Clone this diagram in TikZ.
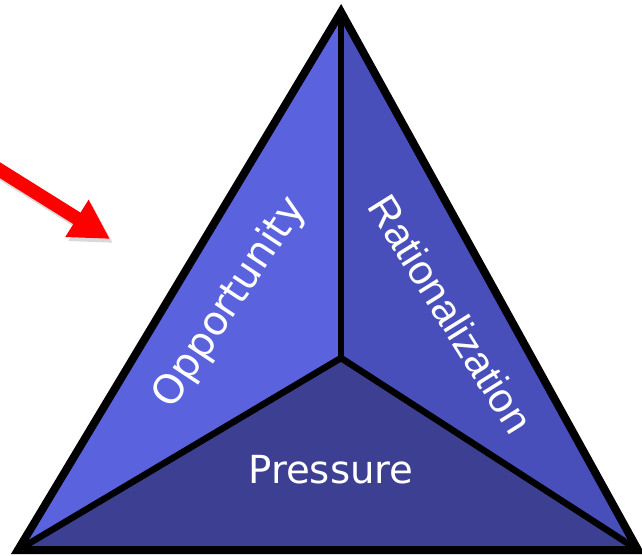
\documentclass[tikz,border=0pt]{standalone}
\usepackage{xcolor}
\usepackage{fontspec}
\newfontfamily\verdfont{DejaVu Sans}
\newfontfamily\arialfont{Liberation Sans}
\usepackage{tikz}
\usetikzlibrary{arrows.meta}

\begin{document}
\begin{tikzpicture}[x=0.02cm, y=-0.02cm]
    \definecolor{myleft}{RGB}{90,98,222}
    \definecolor{myright}{RGB}{72,78,186}
    \definecolor{mybottom}{RGB}{60,63,146}
    \definecolor{myarrow}{RGB}{255,0,0}

    \tikzstyle{face}=[draw=none]  % faces of the triangle
    \tikzstyle{edge}=[draw=black,line width=0.16cm,line join=miter]  % black borders
    \tikzstyle{label}=[text=white,inner sep=0pt]  % white words

    \useasboundingbox (0,0) rectangle (642,555);

    % corners and middle point
    \coordinate (top) at (341,12);
    \coordinate (bl) at (18,550);
    \coordinate (br) at (638,550);
    \coordinate (ctr) at (341,358);

    % three faces
    \fill[face,myleft] (top) -- (ctr) -- (bl) -- cycle;
    \fill[face,myright] (top) -- (br) -- (ctr) -- cycle;
    \fill[face,mybottom] (bl) -- (ctr) -- (br) -- cycle;

    % borders
    \draw[edge,line width=0.13cm] (top) -- (ctr);
    \draw[edge,line width=0.13cm] (bl) -- (ctr) -- (br);
    \draw[edge] (top) -- (br) -- (bl) -- cycle;

    % texts
    \node[label,rotate=56.5,font=\verdfont\fontsize{23}{27}\selectfont](opp) at (230,303){Opportunity};
    \node[label,rotate=-58,font=\arialfont\fontsize{23.5}{27}\selectfont](rat) at (451,314){Rationalization};
    \node[label,font=\verdfont\fontsize{22}{26}\selectfont](pre) at (331,470){Pressure};

    % red arrow
    \coordinate (tail) at (-10,164);
    \coordinate (tip) at (110,239);
    \draw[black!25,opacity=0.6,line width=0.27cm,-{Triangle[width=0.82cm,length=0.78cm]}]
        ([shift={(3,4)}]tail) -- ([shift={(3,4)}]tip);
    \draw[myarrow,line width=0.27cm,-{Triangle[width=0.82cm,length=0.78cm]}] (tail) -- (tip);
\end{tikzpicture}
\end{document}
